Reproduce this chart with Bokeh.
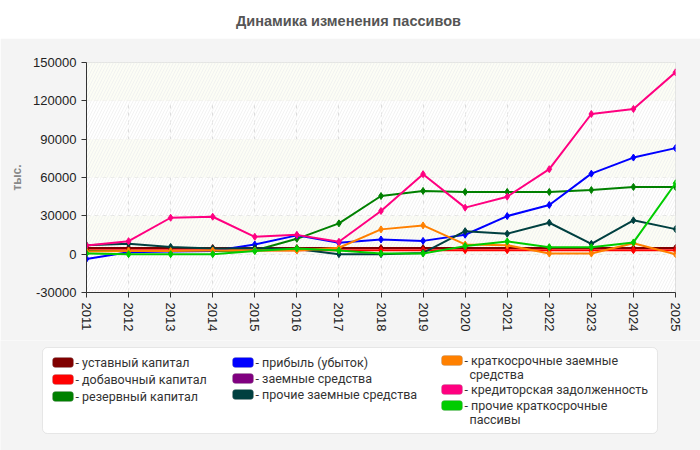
import math
from bokeh.plotting import figure
from bokeh.models import Range1d, FixedTicker, NumeralTickFormatter, BoxAnnotation
from bokeh.layouts import column
from bokeh.core.properties import value
from bokeh.embed import file_html
from bokeh.resources import INLINE

NAN = float("nan")

title_text = "Динамика изменения пассивов"
y_label = "тыс."

years = [2011, 2012, 2013, 2014, 2015, 2016, 2017, 2018, 2019, 2020, 2021, 2022, 2023, 2024, 2025]
y_ticks = [-30000, 0, 30000, 60000, 90000, 120000, 150000]

ustavny = [4800, 4800, 4800, 4800, 4800, 4800, 4800, 4800, 4800, 4800, 4800, 4800, 4800, 4800, 4800]
dobavochny = [3100, 3100, 3100, 3100, 3100, 3100, 3100, 3100, 3100, 3100, 3100, 3100, 3100, 3100, 3100]
rezervny = [2500, 2500, 2500, 2500, 2900, 12000, 24100, 45500, 49500, 48700, 48700, 48700, 50200, 52600, 52600]
pribyl = [-3700, 1500, 2000, 2500, 7600, 14700, 8900, 11500, 10400, 15200, 29800, 38500, 63000, 75600, 83000]
zaemnye = [NAN] * 15
prochie_zaemnye = [7000, 8100, 5700, 4500, 4700, 4000, 0, 0, 1000, 18000, 16000, 24600, 8100, 26500, 19600]
kratk_zaemnye = [2100, 2500, 2500, 2900, 2900, 2900, 5000, 19400, 22500, 7600, 7000, 500, 500, 8600, 0]
kreditorskaya = [6800, 10200, 28500, 29300, 13600, 15100, 9700, 33800, 62600, 36400, 45000, 66500, 109700, 113600, 142300]
prochie_kratk = [500, 0, 0, 0, 2400, 4500, 2900, 500, 500, 6300, 10000, 5500, 5500, 9200, 55500]

series_names = [
    "уставный капитал",
    "добавочный капитал",
    "резервный капитал",
    "прибыль (убыток)",
    "заемные средства",
    "прочие заемные средства",
    "краткосрочные заемные средства",
    "кредиторская задолженность",
    "прочие краткосрочные пассивы",
]
series_values = [ustavny, dobavochny, rezervny, pribyl, zaemnye, prochie_zaemnye,
                 kratk_zaemnye, kreditorskaya, prochie_kratk]
series_colors = ["#800000", "#ff0000", "#008000", "#0000ff", "#800080", "#004040",
                 "#ff8000", "#ff0080", "#00cc00"]

FONT = "Liberation Sans"
PANEL = "#f4f4f4"
LEFT, RIGHT = 86, 675  # pixel edges of the plotting frame

# ---------- title strip ----------
tf = figure(width=700, height=38, x_range=Range1d(LEFT, RIGHT), y_range=Range1d(38, 0),
            output_backend="svg", toolbar_location=None,
            x_axis_location=None, y_axis_location=None,
            min_border_left=LEFT, min_border_right=700 - RIGHT, min_border_top=0, min_border_bottom=0)
tf.outline_line_color = None
tf.grid.visible = False
tf.background_fill_color = "white"
tf.border_fill_color = "white"
tf.text(x=[348], y=[20], text=[title_text], text_align="center", text_baseline="middle",
        text_font=value(FONT), text_font_style="bold", text_font_size="14.5px", text_color="#555555")

# ---------- main chart ----------
p = figure(width=700, height=302,
           x_range=Range1d(2011, 2025), y_range=Range1d(-30000, 150000),
           output_backend="svg", toolbar_location=None,
           min_border_left=LEFT, min_border_right=700 - RIGHT, min_border_top=24, min_border_bottom=48)
p.background_fill_color = "white"
p.border_fill_color = PANEL
p.outline_line_color = "#dddddd"

# alternating bands between grid lines
for lo, hi in zip(y_ticks[:-1], y_ticks[1:]):
    if lo >= 0 and (lo // 30000) % 2 == 0:
        p.add_layout(BoxAnnotation(bottom=lo, top=hi, fill_color="#fcfdf5", fill_alpha=1,
                                   line_color=None, level="underlay"))
p.add_layout(BoxAnnotation(fill_color=None, fill_alpha=0, line_color=None,
                           hatch_pattern="right_diagonal_line", hatch_color="#efefef",
                           hatch_scale=6, hatch_weight=0.8, level="underlay"))

p.xaxis.ticker = FixedTicker(ticks=years)
p.yaxis.ticker = FixedTicker(ticks=y_ticks)
p.yaxis.formatter = NumeralTickFormatter(format="0")
p.xaxis.major_label_orientation = "vertical"
for ax in (p.xaxis, p.yaxis):
    ax.axis_line_color = "#333333"
    ax.major_tick_line_color = "#333333"
    ax.major_tick_out = 5
    ax.major_tick_in = 0
    ax.minor_tick_line_color = None
    ax.major_label_text_font = FONT
    ax.major_label_text_font_size = "13px"
    ax.major_label_text_color = "#222222"
p.yaxis.axis_label = y_label
p.yaxis.axis_label_text_font = FONT
p.yaxis.axis_label_text_font_style = "bold"
p.yaxis.axis_label_text_font_size = "12px"
p.yaxis.axis_label_text_color = "#888888"
p.yaxis.axis_label_standoff = 6

p.grid.grid_line_color = "#dddddd"
p.grid.grid_line_dash = "4 4"

for vals, col in zip(series_values, series_colors):
    p.line(years, vals, line_color=col, line_width=2)
    p.scatter(years, vals, marker="diamond", size=7, fill_color=col, line_color=col)

# ---------- legend ----------
lf = figure(width=700, height=110, x_range=Range1d(0, 700), y_range=Range1d(450, 340),
            output_backend="svg", toolbar_location=None,
            x_axis_location=None, y_axis_location=None, min_border=0)
lf.outline_line_color = None
lf.grid.visible = False
lf.background_fill_color = PANEL
lf.border_fill_color = PANEL

lf.add_layout(BoxAnnotation(left=42, right=657, top=347, bottom=433, fill_color="white",
                            fill_alpha=1, line_color="#bbbbbb", line_width=1, border_radius=5,
                            level="underlay"))

legend_lines = [
    ["- уставный капитал"],
    ["- добавочный капитал"],
    ["- резервный капитал"],
    ["- прибыль (убыток)"],
    ["- заемные средства"],
    ["- прочие заемные средства"],
    ["- краткосрочные заемные", "средства"],
    ["- кредиторская задолженность"],
    ["- прочие краткосрочные", "пассивы"],
]
col_x = [52, 232, 441]
row_y = [[362, 379, 396], [362, 378, 394], [360, 389, 405]]
for i, (lines, col) in enumerate(zip(legend_lines, series_colors)):
    c, r = divmod(i, 3)
    x0 = col_x[c]
    y0 = row_y[c][r]
    lf.add_layout(BoxAnnotation(left=x0, right=x0 + 21, top=y0 - 5, bottom=y0 + 5,
                                fill_color=col, fill_alpha=1, line_color="#999999",
                                line_width=1, border_radius=3))
    for k, t in enumerate(lines):
        xx = x0 + 23 if k == 0 else x0 + 28
        lf.text(x=[xx], y=[y0 + 14 * k], text=[t], text_align="left", text_baseline="middle",
                text_font=value("Roboto"), text_font_size="12.5px", text_color="#333333")

layout = column(column(tf, p, spacing=0), lf, spacing=0)
open("out.html", "w").write(file_html(layout, INLINE, title="chart"))
